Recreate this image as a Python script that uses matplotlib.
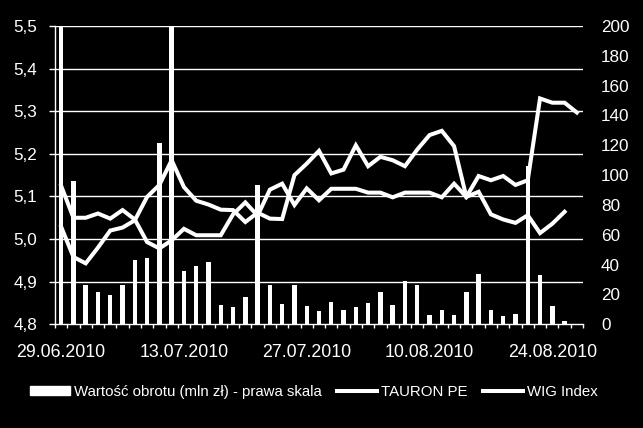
import matplotlib
matplotlib.use("Agg")
import matplotlib.pyplot as plt
import numpy as np
from matplotlib.ticker import FuncFormatter, FixedLocator
from matplotlib.patches import Patch
from matplotlib.lines import Line2D

dates = ["29.06.2010", "30.06.2010", "01.07.2010", "02.07.2010", "05.07.2010",
         "06.07.2010", "07.07.2010", "08.07.2010", "09.07.2010", "12.07.2010",
         "13.07.2010", "14.07.2010", "15.07.2010", "16.07.2010", "19.07.2010",
         "20.07.2010", "21.07.2010", "22.07.2010", "23.07.2010", "26.07.2010",
         "27.07.2010", "28.07.2010", "29.07.2010", "30.07.2010", "02.08.2010",
         "03.08.2010", "04.08.2010", "05.08.2010", "06.08.2010", "09.08.2010",
         "10.08.2010", "11.08.2010", "12.08.2010", "13.08.2010", "16.08.2010",
         "17.08.2010", "18.08.2010", "19.08.2010", "20.08.2010", "23.08.2010",
         "24.08.2010", "25.08.2010", "26.08.2010"]

turnover = [250, 96, 26.2, 21.7, 19.5, 26.2, 43, 44.3, 121.7, 250,
            35.8, 38.9, 41.8, 12.8, 11.6, 18.3, 93.7, 26.2, 13.9, 26.2,
            12.3, 8.7, 15.0, 9.8, 11.6, 14.3, 21.7, 12.8, 28.9, 26.2,
            6.5, 9.8, 6.5, 21.7, 33.6, 9.4, 5.6, 6.7, 106, 32.9,
            12.3, 2.0, 0]

tauron = [5.125, 5.05, 5.05, 5.06, 5.048, 5.068, 5.046, 4.993, 4.978, 4.997,
          5.024, 5.009, 5.009, 5.009, 5.058, 5.086, 5.055, 5.116, 5.130, 5.080,
          5.119, 5.091, 5.118, 5.118, 5.118, 5.109, 5.109, 5.098, 5.109, 5.109,
          5.109, 5.098, 5.130, 5.099, 5.148, 5.138, 5.148, 5.127, 5.138, 5.330,
          5.320, 5.320, 5.297]

wig = [5.029, 4.958, 4.943, 4.980, 5.020, 5.027, 5.044, 5.099, 5.127, 5.185,
       5.122, 5.090, 5.081, 5.069, 5.068, 5.040, 5.062, 5.048, 5.047, 5.150,
       5.177, 5.207, 5.154, 5.163, 5.220, 5.171, 5.193, 5.185, 5.171, 5.210,
       5.244, 5.254, 5.218, 5.099, 5.111, 5.058, 5.046, 5.038, 5.056, 5.014,
       5.036, 5.064, np.nan]

left_ticks = [4.8, 4.9, 5.0, 5.1, 5.2, 5.3, 5.4, 5.5]
right_ticks = [0, 20, 40, 60, 80, 100, 120, 140, 160, 180, 200]
label_every = 10

legend_labels = ["Wartość obrotu (mln zł) - prawa skala", "TAURON PE", "WIG Index"]

plt.rcParams['font.family'] = ['Liberation Sans', 'DejaVu Sans']

fig = plt.figure(figsize=(6.43, 4.28), dpi=100, facecolor='black')
ax = fig.add_axes([55/643, (428-324.3)/428, 528/643, (324.3-26)/428])
ax2 = ax.twinx()
ax.set_zorder(ax2.get_zorder() + 1)
ax.patch.set_visible(False)
ax2.set_facecolor('black')

x = np.arange(len(dates))

ax2.bar(x, turnover, width=0.36, color='white', zorder=3)
ax2.set_ylim(0, 200)
ax2.set_yticks(right_ticks)

ax.plot(x, tauron, color='white', lw=2.9, solid_joinstyle='miter', zorder=4)
ax.plot(x, wig, color='white', lw=2.9, solid_joinstyle='miter', zorder=4)
ax.set_ylim(4.8, 5.5)
ax.set_yticks(left_ticks)
ax.yaxis.set_major_formatter(FuncFormatter(lambda v, p: f"{v:.1f}".replace('.', ',')))
ax.set_xlim(-0.5, len(dates) - 0.5)

ax2.yaxis.grid(False)
for t in left_ticks[1:]:
    ax2.axhline((t - 4.8) / 0.7 * 200, color='white', lw=1.0, zorder=1)

major = list(range(0, len(dates), label_every))
ax.xaxis.set_major_locator(FixedLocator(major))
ax.set_xticklabels([dates[i] for i in major])
ax.xaxis.set_minor_locator(FixedLocator(np.arange(-0.5, len(dates), 1.0)))

for a in (ax, ax2):
    for s in a.spines.values():
        s.set_visible(False)
ax.spines['left'].set_visible(True)
ax.spines['left'].set_color('white')
ax.spines['left'].set_linewidth(1.0)
ax.spines['bottom'].set_visible(True)
ax.spines['bottom'].set_color('white')
ax.spines['bottom'].set_linewidth(1.0)

ax.tick_params(axis='y', colors='white', length=4.3, width=1.0, pad=8.4, labelsize=12.3)
ax.tick_params(axis='x', which='major', colors='white', length=0, pad=14, labelsize=12.8)
ax.tick_params(axis='x', which='minor', colors='white', length=3, width=1.0)
ax2.tick_params(axis='y', colors='white', length=0, pad=13, labelsize=12.3)

handles = [Patch(facecolor='white', edgecolor='white'),
           Line2D([0], [0], color='white', lw=2.9),
           Line2D([0], [0], color='white', lw=2.9)]
leg = fig.legend(handles, legend_labels, loc='center', bbox_to_anchor=(0.488, 0.085),
                 ncol=3, frameon=False, fontsize=10.8, labelcolor='white',
                 handlelength=2.7, handletextpad=0.25, columnspacing=1.0,
                 handleheight=0.5)

fig.savefig('out.png', dpi=100, facecolor='black')
